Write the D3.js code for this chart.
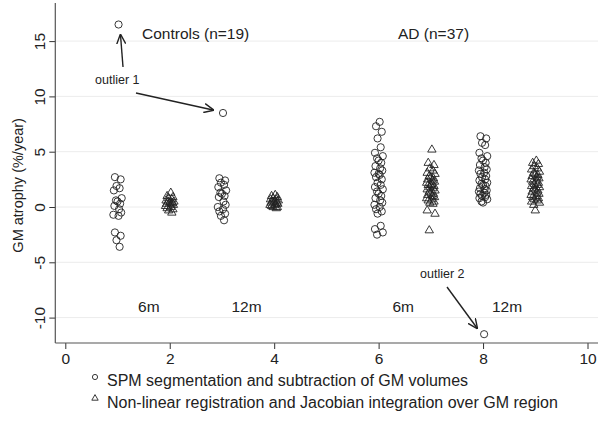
<!DOCTYPE html>
<html>
<head>
<meta charset="utf-8">
<script src="https://cdnjs.cloudflare.com/ajax/libs/d3/7.8.5/d3.min.js"></script>
<style>
  body { margin: 0; background: #fff; }
  text { font-family: "Liberation Sans", Arial, sans-serif; fill: #222; }
</style>
</head>
<body>
<div id="chart"></div>
<script>
(function () {

// Axis ticks
const xTicks = [0, 2, 4, 6, 8, 10];
const yTicks = [-10, -5, 0, 5, 10, 15];

// Group positions on the x axis
const groupX = [1, 2, 3, 4, 6, 7, 8, 9];
const groupMarker = ["circle", "triangle", "circle", "triangle", "circle", "triangle", "circle", "triangle"];

// Controls (n=19)
const ctrlSpm6m = [16.5, 2.7, 2.5, 1.9, 1.7, 1.5, 0.8, 0.6, 0.5, 0.3, 0.1, -0.2, -0.5, -0.7, -0.8, -2.3, -2.6, -3.0, -3.6];
const ctrlJac6m = [1.3, 1.0, 0.9, 0.8, 0.7, 0.6, 0.5, 0.5, 0.4, 0.4, 0.3, 0.3, 0.2, 0.1, 0.0, -0.1, -0.2, -0.3, -0.5];
const ctrlSpm12m = [8.5, 2.6, 2.4, 2.2, 2.0, 1.8, 1.5, 1.3, 1.2, 1.0, 0.9, 0.5, 0.2, 0.0, -0.2, -0.4, -0.6, -0.8, -1.2];
const ctrlJac12m = [1.1, 1.0, 0.9, 0.8, 0.7, 0.7, 0.6, 0.5, 0.5, 0.4, 0.4, 0.3, 0.3, 0.2, 0.2, 0.1, 0.0, 0.0, -0.1];

// AD (n=37)
const adSpm6m = [7.7, 7.3, 6.8, 6.2, 5.4, 4.9, 4.6, 4.4, 4.2, 4.0, 3.7, 3.5, 3.3, 3.1, 2.9, 2.7, 2.5, 2.2, 2.0, 1.8,
                 1.6, 1.4, 1.2, 1.0, 0.8, 0.6, 0.4, 0.2, 0.0, -0.2, -0.4, -0.6, -1.7, -2.0, -2.3, -2.5, 3.0];
const adJac6m = [5.2, 4.0, 3.8, 3.5, 3.3, 3.1, 3.0, 2.8, 2.7, 2.6, 2.5, 2.4, 2.3, 2.2, 2.1, 2.0, 1.9, 1.8, 1.7, 1.6,
                 1.5, 1.4, 1.3, 1.2, 1.1, 1.0, 0.9, 0.8, 0.7, 0.6, 0.5, 0.4, 0.3, -0.3, -0.6, -2.1, 2.0];
const adSpm12m = [-11.5, 6.4, 6.2, 5.8, 5.6, 4.9, 4.6, 4.4, 4.2, 4.0, 3.8, 3.6, 3.4, 3.3, 3.1, 3.0, 2.8, 2.7, 2.5, 2.4,
                  2.2, 2.1, 2.0, 1.9, 1.7, 1.6, 1.5, 1.4, 1.3, 1.2, 1.1, 1.0, 0.9, 0.8, 0.7, 0.5, 0.4];
const adJac12m = [4.2, 4.0, 3.9, 3.7, 3.5, 3.4, 3.2, 3.1, 3.0, 2.9, 2.8, 2.7, 2.6, 2.5, 2.4, 2.3, 2.2, 2.1, 2.0, 1.9,
                  1.8, 1.7, 1.6, 1.5, 1.4, 1.3, 1.2, 1.1, 1.0, 0.9, 0.8, 0.7, 0.6, 0.5, 0.4, 0.2, -0.3];

const groupValues = [ctrlSpm6m, ctrlJac6m, ctrlSpm12m, ctrlJac12m, adSpm6m, adJac6m, adSpm12m, adJac12m];

// small horizontal jitter pattern (x units), cycled through each group
const jitter = [0.02, -0.05, 0.06, -0.02, 0.04, -0.07, 0.08, -0.03, 0.0, 0.05, -0.06, 0.03, 0.07, -0.08];

const width = 598, height = 425;
const plot = { left: 55.3, right: 598, top: 3, bottom: 343 };

const svg = d3.select("#chart").append("svg")
    .attr("width", width)
    .attr("height", height);

const x = d3.scaleLinear().domain([0, 10]).range([65.3, 587.5]);
const y = d3.scaleLinear().domain([-10, 15]).range([317.6, 41.1]);

// Grid lines
svg.append("g")
    .selectAll("line")
    .data(yTicks)
    .enter()
    .append("line")
    .attr("x1", plot.left)
    .attr("x2", plot.right)
    .attr("y1", d => y(d))
    .attr("y2", d => y(d))
    .attr("stroke", "#ececec")
    .attr("stroke-width", 1);

// Y axis
const yAxis = svg.append("g")
    .attr("transform", `translate(${plot.left},0)`)
    .call(d3.axisLeft(y).tickValues(yTicks).tickSize(6).tickPadding(3).tickFormat(d3.format("d")));
yAxis.select(".domain").remove();
yAxis.selectAll(".tick line").attr("stroke", "#333");
yAxis.selectAll(".tick text")
    .attr("transform", "rotate(-90)")
    .attr("x", 0)
    .attr("y", -10)
    .attr("dy", "0")
    .attr("text-anchor", "middle")
    .style("font-size", "15.5px")
    .text(d => d < 0 ? "-" + Math.abs(d) : d);

// X axis
const xAxis = svg.append("g")
    .attr("transform", `translate(0,${plot.bottom})`)
    .call(d3.axisBottom(x).tickValues(xTicks).tickSize(6).tickPadding(4));
xAxis.select(".domain").remove();
xAxis.selectAll(".tick line").attr("stroke", "#333");
xAxis.selectAll(".tick text").style("font-size", "15.5px");

// axis frame lines
svg.append("line")
    .attr("x1", plot.left).attr("x2", plot.left)
    .attr("y1", plot.top).attr("y2", plot.bottom)
    .attr("stroke", "#555").attr("stroke-width", 1.2);
svg.append("line")
    .attr("x1", plot.left).attr("x2", plot.right)
    .attr("y1", plot.bottom).attr("y2", plot.bottom)
    .attr("stroke", "#555").attr("stroke-width", 1.2);

// Y axis title
svg.append("text")
    .attr("transform", `translate(23,${(y(-10) + y(15)) / 2 + 6}) rotate(-90)`)
    .attr("text-anchor", "middle")
    .style("font-size", "14.5px")
    .text("GM atrophy (%/year)");

// Points
const triPath = "M0,-4.6L4.2,2.6L-4.2,2.6Z";

groupValues.forEach((vals, gi) => {
    const g = svg.append("g");
    const pts = vals.map((v, i) => ({ v: v, dx: jitter[i % jitter.length] }));
    if (groupMarker[gi] === "circle") {
        g.selectAll("circle")
            .data(pts)
            .enter()
            .append("circle")
            .attr("cx", d => x(groupX[gi] + d.dx))
            .attr("cy", d => y(d.v))
            .attr("r", 3.6)
            .attr("fill", "none")
            .attr("stroke", "#222")
            .attr("stroke-width", 0.9);
    } else {
        g.selectAll("path")
            .data(pts)
            .enter()
            .append("path")
            .attr("d", triPath)
            .attr("transform", d => `translate(${x(groupX[gi] + d.dx)},${y(d.v)})`)
            .attr("fill", "none")
            .attr("stroke", "#222")
            .attr("stroke-width", 0.9);
    }
});

// Group labels
svg.append("text").attr("x", 142).attr("y", 39).style("font-size", "15.5px").text("Controls (n=19)");
svg.append("text").attr("x", 398).attr("y", 39).style("font-size", "15.5px").text("AD (n=37)");

const periodLabels = [
    { t: "6m", cx: 1.6 },
    { t: "12m", cx: 3.47 },
    { t: "6m", cx: 6.47 },
    { t: "12m", cx: 8.46 }
];
svg.selectAll(".period")
    .data(periodLabels)
    .enter()
    .append("text")
    .attr("class", "period")
    .attr("x", d => x(d.cx))
    .attr("y", 312)
    .attr("text-anchor", "middle")
    .style("font-size", "15.5px")
    .text(d => d.t);

// Annotations
const defs = svg.append("defs");
defs.append("marker")
    .attr("id", "arrow")
    .attr("viewBox", "0 0 10 10")
    .attr("refX", 9).attr("refY", 5)
    .attr("markerWidth", 10).attr("markerHeight", 10)
    .attr("markerUnits", "userSpaceOnUse")
    .attr("orient", "auto")
    .append("path")
    .attr("d", "M0,0.5L10,5L0,9.5")
    .attr("fill", "none")
    .attr("stroke", "#222")
    .attr("stroke-width", 1.4);

function arrow(x1, y1, x2, y2) {
    svg.append("line")
        .attr("x1", x1).attr("y1", y1)
        .attr("x2", x2).attr("y2", y2)
        .attr("stroke", "#222")
        .attr("stroke-width", 1.4)
        .attr("marker-end", "url(#arrow)");
}

svg.append("text").attr("x", 95).attr("y", 84).style("font-size", "12.5px").text("outlier 1");
arrow(123, 67, 120.5, 35);
arrow(136, 93, 213, 110);

svg.append("text").attr("x", 420).attr("y", 278).style("font-size", "12.5px").text("outlier 2");
arrow(447, 287, 477, 328);

// Legend
const legend = svg.append("g");
legend.append("circle")
    .attr("cx", 95).attr("cy", 377)
    .attr("r", 2.6)
    .attr("fill", "none").attr("stroke", "#222").attr("stroke-width", 0.9);
legend.append("path")
    .attr("d", "M0,-3.4L3.2,2.2L-3.2,2.2Z")
    .attr("transform", "translate(95,398)")
    .attr("fill", "none").attr("stroke", "#222").attr("stroke-width", 0.9);
legend.append("text").attr("x", 107).attr("y", 386).style("font-size", "16px")
    .text("SPM segmentation and subtraction of GM volumes");
legend.append("text").attr("x", 107).attr("y", 408).style("font-size", "16px")
    .text("Non-linear registration and Jacobian integration over GM region");

})();
</script>
</body>
</html>
